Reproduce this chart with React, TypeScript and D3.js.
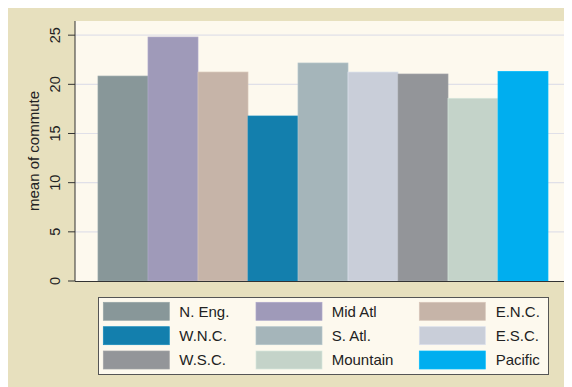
import React from "react";
import * as d3 from "d3";

const categories = ["N. Eng.", "Mid Atl", "E.N.C.", "W.N.C.", "S. Atl.", "E.S.C.", "W.S.C.", "Mountain", "Pacific"];
const meanCommute = [20.84, 24.81, 21.25, 16.78, 22.17, 21.25, 21.05, 18.58, 21.32];
const barColors = ["#889799", "#9F9AB9", "#C6B4A8", "#137FAD", "#A5B5BA", "#C9CED9", "#939599", "#C4D3C9", "#00AEEF"];
const yTicks = [0, 5, 10, 15, 20, 25];
const yTitle = "mean of commute";

const W = 564;
const H = 379;
const plot = { left: 67, right: 564, top: 13, bottom: 273 };

export default function App() {
  const y = d3.scaleLinear().domain([0, 26.44]).range([plot.bottom, plot.top]);
  const x = d3.scaleBand<string>().domain(categories).range([90, 540]).padding(0);

  const legendColX = [95.3, 248, 411.3];
  const legendLabelX = [171.3, 323.7, 487.7];
  const legendRowY = [294.3, 318.7, 343];

  const font = "'Liberation Sans', Arial, Helvetica, sans-serif";

  return (
    <svg width={W} height={H} style={{ display: "block", fontFamily: font }}>
      <rect x={0} y={0} width={W} height={H} fill="#E7E0BE" />
      <rect x={plot.left} y={plot.top} width={plot.right - plot.left} height={plot.bottom - plot.top} fill="#FDF9EE" />
      {yTicks.filter((t) => t > 0).map((t) => (
        <line key={"g" + t} x1={plot.left} x2={plot.right} y1={y(t)} y2={y(t)} stroke="#E0E0E8" strokeWidth={1.2} />
      ))}
      {categories.map((c, i) => (
        <rect
          key={c}
          x={x(c)!}
          y={y(meanCommute[i])}
          width={x.bandwidth()}
          height={y(0) - y(meanCommute[i])}
          fill={barColors[i]}
          stroke={d3.color(barColors[i])!.brighter(0.25).formatHex()}
          strokeWidth={0.7}
        />
      ))}
      <line x1={plot.left} x2={plot.left} y1={plot.top} y2={plot.bottom} stroke="#333" strokeWidth={1} />
      <line x1={plot.left} x2={plot.right} y1={plot.bottom + 0.5} y2={plot.bottom + 0.5} stroke="#333" strokeWidth={1} />
      {yTicks.map((t) => (
        <g key={"t" + t}>
          <line x1={plot.left - 7} x2={plot.left} y1={y(t)} y2={y(t)} stroke="#333" strokeWidth={1} />
          <text
            transform={`translate(52,${y(t)}) rotate(-90)`}
            textAnchor="middle"
            fontSize={14.5}
            fill="#222"
          >
            {t}
          </text>
        </g>
      ))}
      <text transform={`translate(30.5,${(plot.top + plot.bottom) / 2}) rotate(-90)`} textAnchor="middle" fontSize={15} fill="#222">
        {yTitle}
      </text>
      <rect x={90.5} y={289.5} width={450} height={77} fill="#FDF9EE" stroke="#555" strokeWidth={1} />
      {categories.map((c, i) => {
        const row = Math.floor(i / 3);
        const col = i % 3;
        return (
          <g key={"l" + c}>
            <rect x={legendColX[col]} y={legendRowY[row]} width={66} height={18} fill={barColors[i]} stroke={d3.color(barColors[i])!.brighter(0.25).formatHex()} strokeWidth={0.7} />
            <text x={legendLabelX[col]} y={legendRowY[row] + 14.2} fontSize={15} fill="#222">
              {c}
            </text>
          </g>
        );
      })}
    </svg>
  );
}
